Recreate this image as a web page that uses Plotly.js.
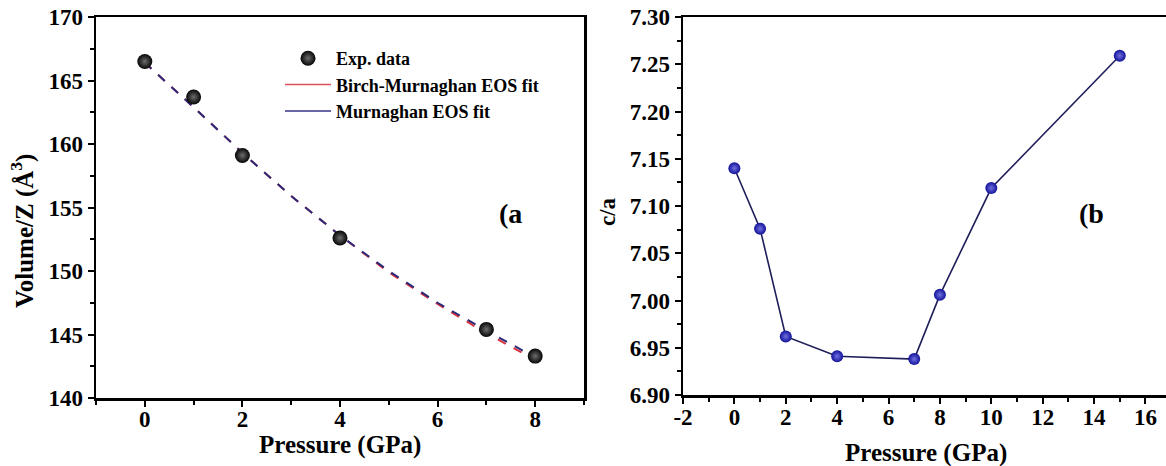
<!DOCTYPE html>
<html>
<head>
<meta charset="utf-8">
<script src="https://cdn.plot.ly/plotly-3.0.1.min.js"></script>
<style>html,body{margin:0;padding:0;background:#fff}#chart{width:1166px;height:466px}</style>
</head>
<body>
<div id="chart"></div>
<script>
// Panel (a): volume per formula unit vs pressure
const expPressure = [0, 1, 2, 4, 7, 8];
const expVolume = [166.5, 163.7, 159.1, 152.6, 145.4, 143.3];
const fitPressure = [0, 1, 2, 3, 4, 5, 6, 7, 8];
const birchFit = [166.4, 162.9, 159.3, 155.9, 152.8, 149.9, 147.4, 145.1, 143.0];
const murnaghanFit = [166.4, 162.9, 159.3, 155.9, 152.8, 150.0, 147.5, 145.3, 143.2];
// Panel (b): c/a ratio vs pressure
const caPressure = [0, 1, 2, 4, 7, 8, 10, 15];
const caRatio = [7.140, 7.076, 6.962, 6.941, 6.938, 7.006, 7.119, 7.259];
// Tick labels of panel (b) pressure axis (hyphen minus as in the original)
const caTickVals = [-2, 0, 2, 4, 6, 8, 10, 12, 14, 16];
const caTickText = ['-2', '0', '2', '4', '6', '8', '10', '12', '14', '16'];

const FONT = 'Liberation Serif, Times New Roman, serif';
const W = 1166, H = 466;
const px = v => v / W, py = v => 1 - v / H;

const traces = [
  {x: fitPressure, y: birchFit, mode: 'lines', type: 'scatter', xaxis: 'x', yaxis: 'y',
   line: {color: '#d9323c', width: 2, dash: 'dash'}, showlegend: false, hoverinfo: 'skip'},
  {x: fitPressure, y: murnaghanFit, mode: 'lines', type: 'scatter', xaxis: 'x', yaxis: 'y',
   line: {color: '#2b2b7a', width: 2, dash: 'dash'}, showlegend: false, hoverinfo: 'skip'},
  {x: expPressure, y: expVolume, mode: 'markers', type: 'scatter', xaxis: 'x', yaxis: 'y',
   name: 'Exp. data',
   marker: {color: '#050505', size: 15, gradient: {type: 'radial', color: '#6c6c6c'}}},
  {x: [null], y: [null], mode: 'lines', type: 'scatter', xaxis: 'x', yaxis: 'y',
   name: 'Birch-Murnaghan EOS fit', line: {color: '#e05058', width: 1.5}},
  {x: [null], y: [null], mode: 'lines', type: 'scatter', xaxis: 'x', yaxis: 'y',
   name: 'Murnaghan EOS fit', line: {color: '#34348a', width: 1.5}},
  {x: caPressure, y: caRatio, mode: 'lines+markers', type: 'scatter', xaxis: 'x2', yaxis: 'y2',
   showlegend: false, line: {color: '#1e1e5a', width: 1.6},
   marker: {color: '#12129a', size: 12, gradient: {type: 'radial', color: '#7070e0'}}}
];

const tickFont = {family: FONT, size: 23, color: '#000', weight: 'bold'};
const titleFont = {family: FONT, size: 25, color: '#000', weight: 'bold'};
const axisCommon = {
  showgrid: false, zeroline: false, showline: true, linecolor: '#000', linewidth: 2.5,
  ticks: 'outside', ticklen: 6, tickwidth: 2, tickcolor: '#000', tickfont: tickFont,
  fixedrange: true
};

const layout = {
  width: W, height: H,
  margin: {l: 0, r: 0, t: 0, b: 0},
  paper_bgcolor: '#fff', plot_bgcolor: '#fff',
  font: {family: FONT, color: '#000'},
  xaxis: Object.assign({}, axisCommon, {
    domain: [px(96), px(584)], range: [-1, 9], tick0: 0, dtick: 2, mirror: true,
    ticklabelstandoff: -7,
    minor: {dtick: 1, ticks: 'outside', ticklen: 4, tickwidth: 2, tickcolor: '#000'},
    anchor: 'y'
  }),
  yaxis: Object.assign({}, axisCommon, {
    domain: [py(398), py(17)], range: [140, 170], dtick: 5, mirror: true,
    minor: {dtick: 2.5, ticks: 'outside', ticklen: 4, tickwidth: 2, tickcolor: '#000'},
    anchor: 'x'
  }),
  xaxis2: Object.assign({}, axisCommon, {
    domain: [px(683), 1], range: [-2, 16.8], tickmode: 'array',
    tickvals: caTickVals, ticktext: caTickText, mirror: true,
    ticklabelstandoff: -6,
    minor: {dtick: 1, tick0: 0, ticks: 'outside', ticklen: 4, tickwidth: 2, tickcolor: '#000'},
    anchor: 'y2'
  }),
  yaxis2: Object.assign({}, axisCommon, {
    domain: [py(395), py(17)], range: [6.90, 7.30], dtick: 0.05, tickformat: '.2f',
    minor: {dtick: 0.025, ticks: 'outside', ticklen: 4, tickwidth: 2, tickcolor: '#000'},
    anchor: 'x2'
  }),
  legend: {
    x: px(280), y: py(40), xanchor: 'left', yanchor: 'top',
    bgcolor: 'rgba(0,0,0,0)', borderwidth: 0, itemwidth: 46,
    font: {family: FONT, size: 18, color: '#000', weight: 'bold'},
    tracegroupgap: 0
  },
  annotations: [
    {text: 'Pressure (GPa)', xref: 'paper', yref: 'paper', x: px(340), y: py(445),
     xanchor: 'center', yanchor: 'middle', showarrow: false, font: titleFont},
    {text: 'Pressure (GPa)', xref: 'paper', yref: 'paper', x: px(926), y: py(453),
     xanchor: 'center', yanchor: 'middle', showarrow: false, font: titleFont},
    {text: 'Volume/Z (Å<sup>3</sup>)', xref: 'paper', yref: 'paper', x: px(22), y: py(231),
     xanchor: 'center', yanchor: 'middle', textangle: -90, showarrow: false,
     font: {family: FONT, size: 25, color: '#000', weight: 'bold'}},
    {text: 'c/a', xref: 'paper', yref: 'paper', x: px(607), y: py(212),
     xanchor: 'center', yanchor: 'middle', textangle: -90, showarrow: false,
     font: {family: FONT, size: 23, color: '#000', weight: 'bold'}},
    {text: '(a', xref: 'paper', yref: 'paper', x: px(510), y: py(213),
     xanchor: 'center', yanchor: 'middle', showarrow: false,
     font: {family: FONT, size: 28, color: '#000', weight: 'bold'}},
    {text: '(b', xref: 'paper', yref: 'paper', x: px(1091), y: py(214),
     xanchor: 'center', yanchor: 'middle', showarrow: false,
     font: {family: FONT, size: 28, color: '#000', weight: 'bold'}}
  ],
  showlegend: true
};

Plotly.newPlot('chart', traces, layout, {displayModeBar: false, staticPlot: true});
</script>
</body>
</html>
